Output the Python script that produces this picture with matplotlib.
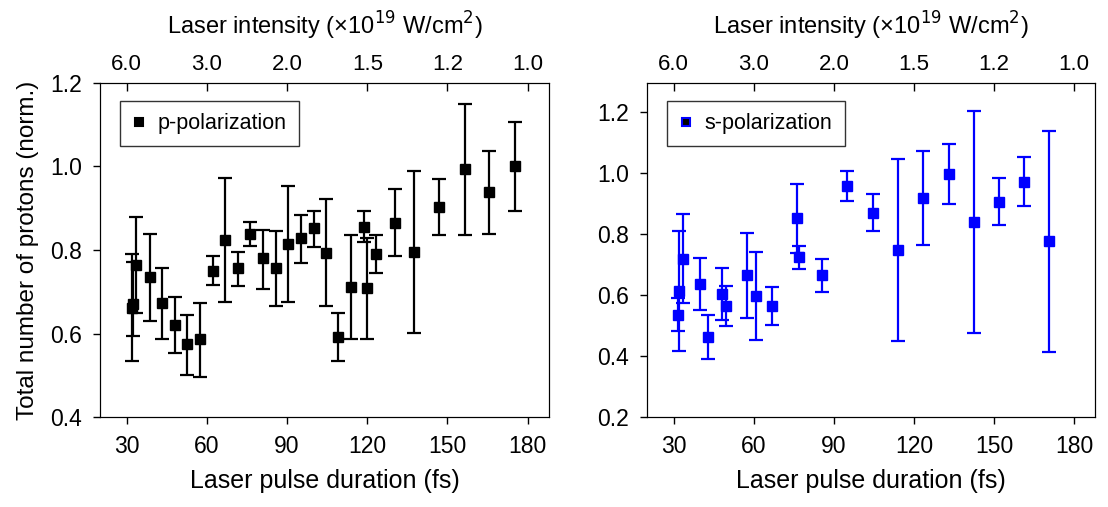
import numpy as np
import matplotlib
matplotlib.use("Agg")
import matplotlib.pyplot as plt
from matplotlib.lines import Line2D

plt.rcParams['font.family'] = ['Liberation Sans', 'DejaVu Sans']

# p-polarization: pulse duration (fs), protons (norm.), error bar low / high
p_dur = [31.8, 32.3, 33.6, 38.6, 43.2, 48.1, 52.7, 57.4, 62.1, 66.9, 71.6, 76.2,
         81.0, 85.7, 90.5, 95.1, 99.9, 104.6, 109.2, 114.0, 118.6, 120.0, 123.4,
         130.4, 137.5, 146.9, 156.5, 165.7, 175.1]
p_val = [0.660, 0.670, 0.765, 0.735, 0.672, 0.620, 0.574, 0.586, 0.750, 0.823,
         0.756, 0.839, 0.780, 0.757, 0.815, 0.828, 0.852, 0.793, 0.591, 0.711,
         0.856, 0.708, 0.791, 0.865, 0.796, 0.902, 0.993, 0.938, 1.000]
p_lo = [0.535, 0.593, 0.650, 0.631, 0.587, 0.553, 0.501, 0.497, 0.715, 0.675,
        0.713, 0.809, 0.707, 0.667, 0.675, 0.770, 0.808, 0.667, 0.533, 0.588,
        0.819, 0.588, 0.746, 0.786, 0.602, 0.836, 0.837, 0.839, 0.894]
p_hi = [0.791, 0.771, 0.879, 0.839, 0.757, 0.687, 0.645, 0.673, 0.786, 0.972,
        0.796, 0.866, 0.849, 0.845, 0.953, 0.885, 0.894, 0.921, 0.649, 0.835,
        0.894, 0.828, 0.835, 0.945, 0.990, 0.969, 1.150, 1.037, 1.106]

# s-polarization
s_dur = [31.5, 32.1, 33.4, 39.8, 42.8, 47.9, 49.6, 57.3, 60.9, 66.9, 76.3, 77.0,
         85.6, 95.1, 104.6, 114.0, 123.5, 133.0, 142.4, 151.8, 161.4, 170.8]
s_val = [0.534, 0.614, 0.718, 0.636, 0.463, 0.603, 0.564, 0.665, 0.597, 0.565,
         0.852, 0.726, 0.665, 0.957, 0.870, 0.749, 0.919, 0.996, 0.839, 0.905,
         0.972, 0.776]
s_lo = [0.482, 0.417, 0.573, 0.551, 0.391, 0.519, 0.497, 0.526, 0.454, 0.502,
        0.739, 0.686, 0.609, 0.908, 0.809, 0.448, 0.765, 0.897, 0.474, 0.829,
        0.891, 0.412]
s_hi = [0.589, 0.811, 0.865, 0.722, 0.535, 0.689, 0.631, 0.802, 0.741, 0.626,
        0.964, 0.761, 0.718, 1.007, 0.931, 1.047, 1.073, 1.094, 1.204, 0.984,
        1.053, 1.139]

dur_ticks = [30, 60, 90, 120, 150, 180]
int_labels = ['6.0', '3.0', '2.0', '1.5', '1.2', '1.0']

fig = plt.figure(figsize=(11.08, 5.07), dpi=100)
ax1 = fig.add_axes([0.0903, 0.1775, 0.4052, 0.6588])
ax2 = fig.add_axes([0.584, 0.1775, 0.4045, 0.6588])

def panel(ax, x, y, lo, hi, color, label, ylim, yticks, legface):
    y = np.array(y)
    yerr = [y - np.array(lo), np.array(hi) - y]
    ax.errorbar(x, y, yerr=yerr, fmt='s', color=color, ms=7.5, elinewidth=1.6,
                capsize=5, capthick=1.6)
    ax.set_xlim(20, 188)
    ax.set_ylim(*ylim)
    ax.set_xticks(dur_ticks)
    ax.set_yticks(yticks)
    ax.set_yticklabels(['%.1f' % v for v in yticks])
    ax.tick_params(direction='out', length=5, width=1, labelsize=16.5, pad=8,
                   top=False, right=False)
    ax.set_xlabel('Laser pulse duration (fs)', fontsize=18, labelpad=8)
    handle = Line2D([], [], ls='none', marker='s', ms=6, mfc=legface, mec=color, mew=1.5)
    leg = ax.legend([handle], [label], loc='upper left', fontsize=15.5, frameon=True,
                    fancybox=False, handletextpad=0.6, borderpad=0.55,
                    handlelength=0.6, borderaxespad=0, bbox_to_anchor=(0.045, 0.945))
    leg.get_frame().set_edgecolor('black')
    leg.get_frame().set_linewidth(1.0)
    top = ax.twiny()
    top.set_xlim(ax.get_xlim())
    top.set_xticks(dur_ticks)
    top.set_xticklabels(int_labels)
    top.tick_params(direction='in', length=6, width=1, labelsize=16, pad=6)
    top.set_xlabel('Laser intensity (×10$^{19}$ W/cm$^{2}$)', fontsize=17, labelpad=14)

panel(ax1, p_dur, p_val, p_lo, p_hi, 'black', 'p-polarization', (0.4, 1.2),
      [0.4, 0.6, 0.8, 1.0, 1.2], 'black')
panel(ax2, s_dur, s_val, s_lo, s_hi, '#0000ff', 's-polarization', (0.2, 1.295),
      [0.2, 0.4, 0.6, 0.8, 1.0, 1.2], 'black')
ax1.set_ylabel('Total number of protons (norm.)', fontsize=17.5, labelpad=8)

fig.savefig('out.png', dpi=100)
